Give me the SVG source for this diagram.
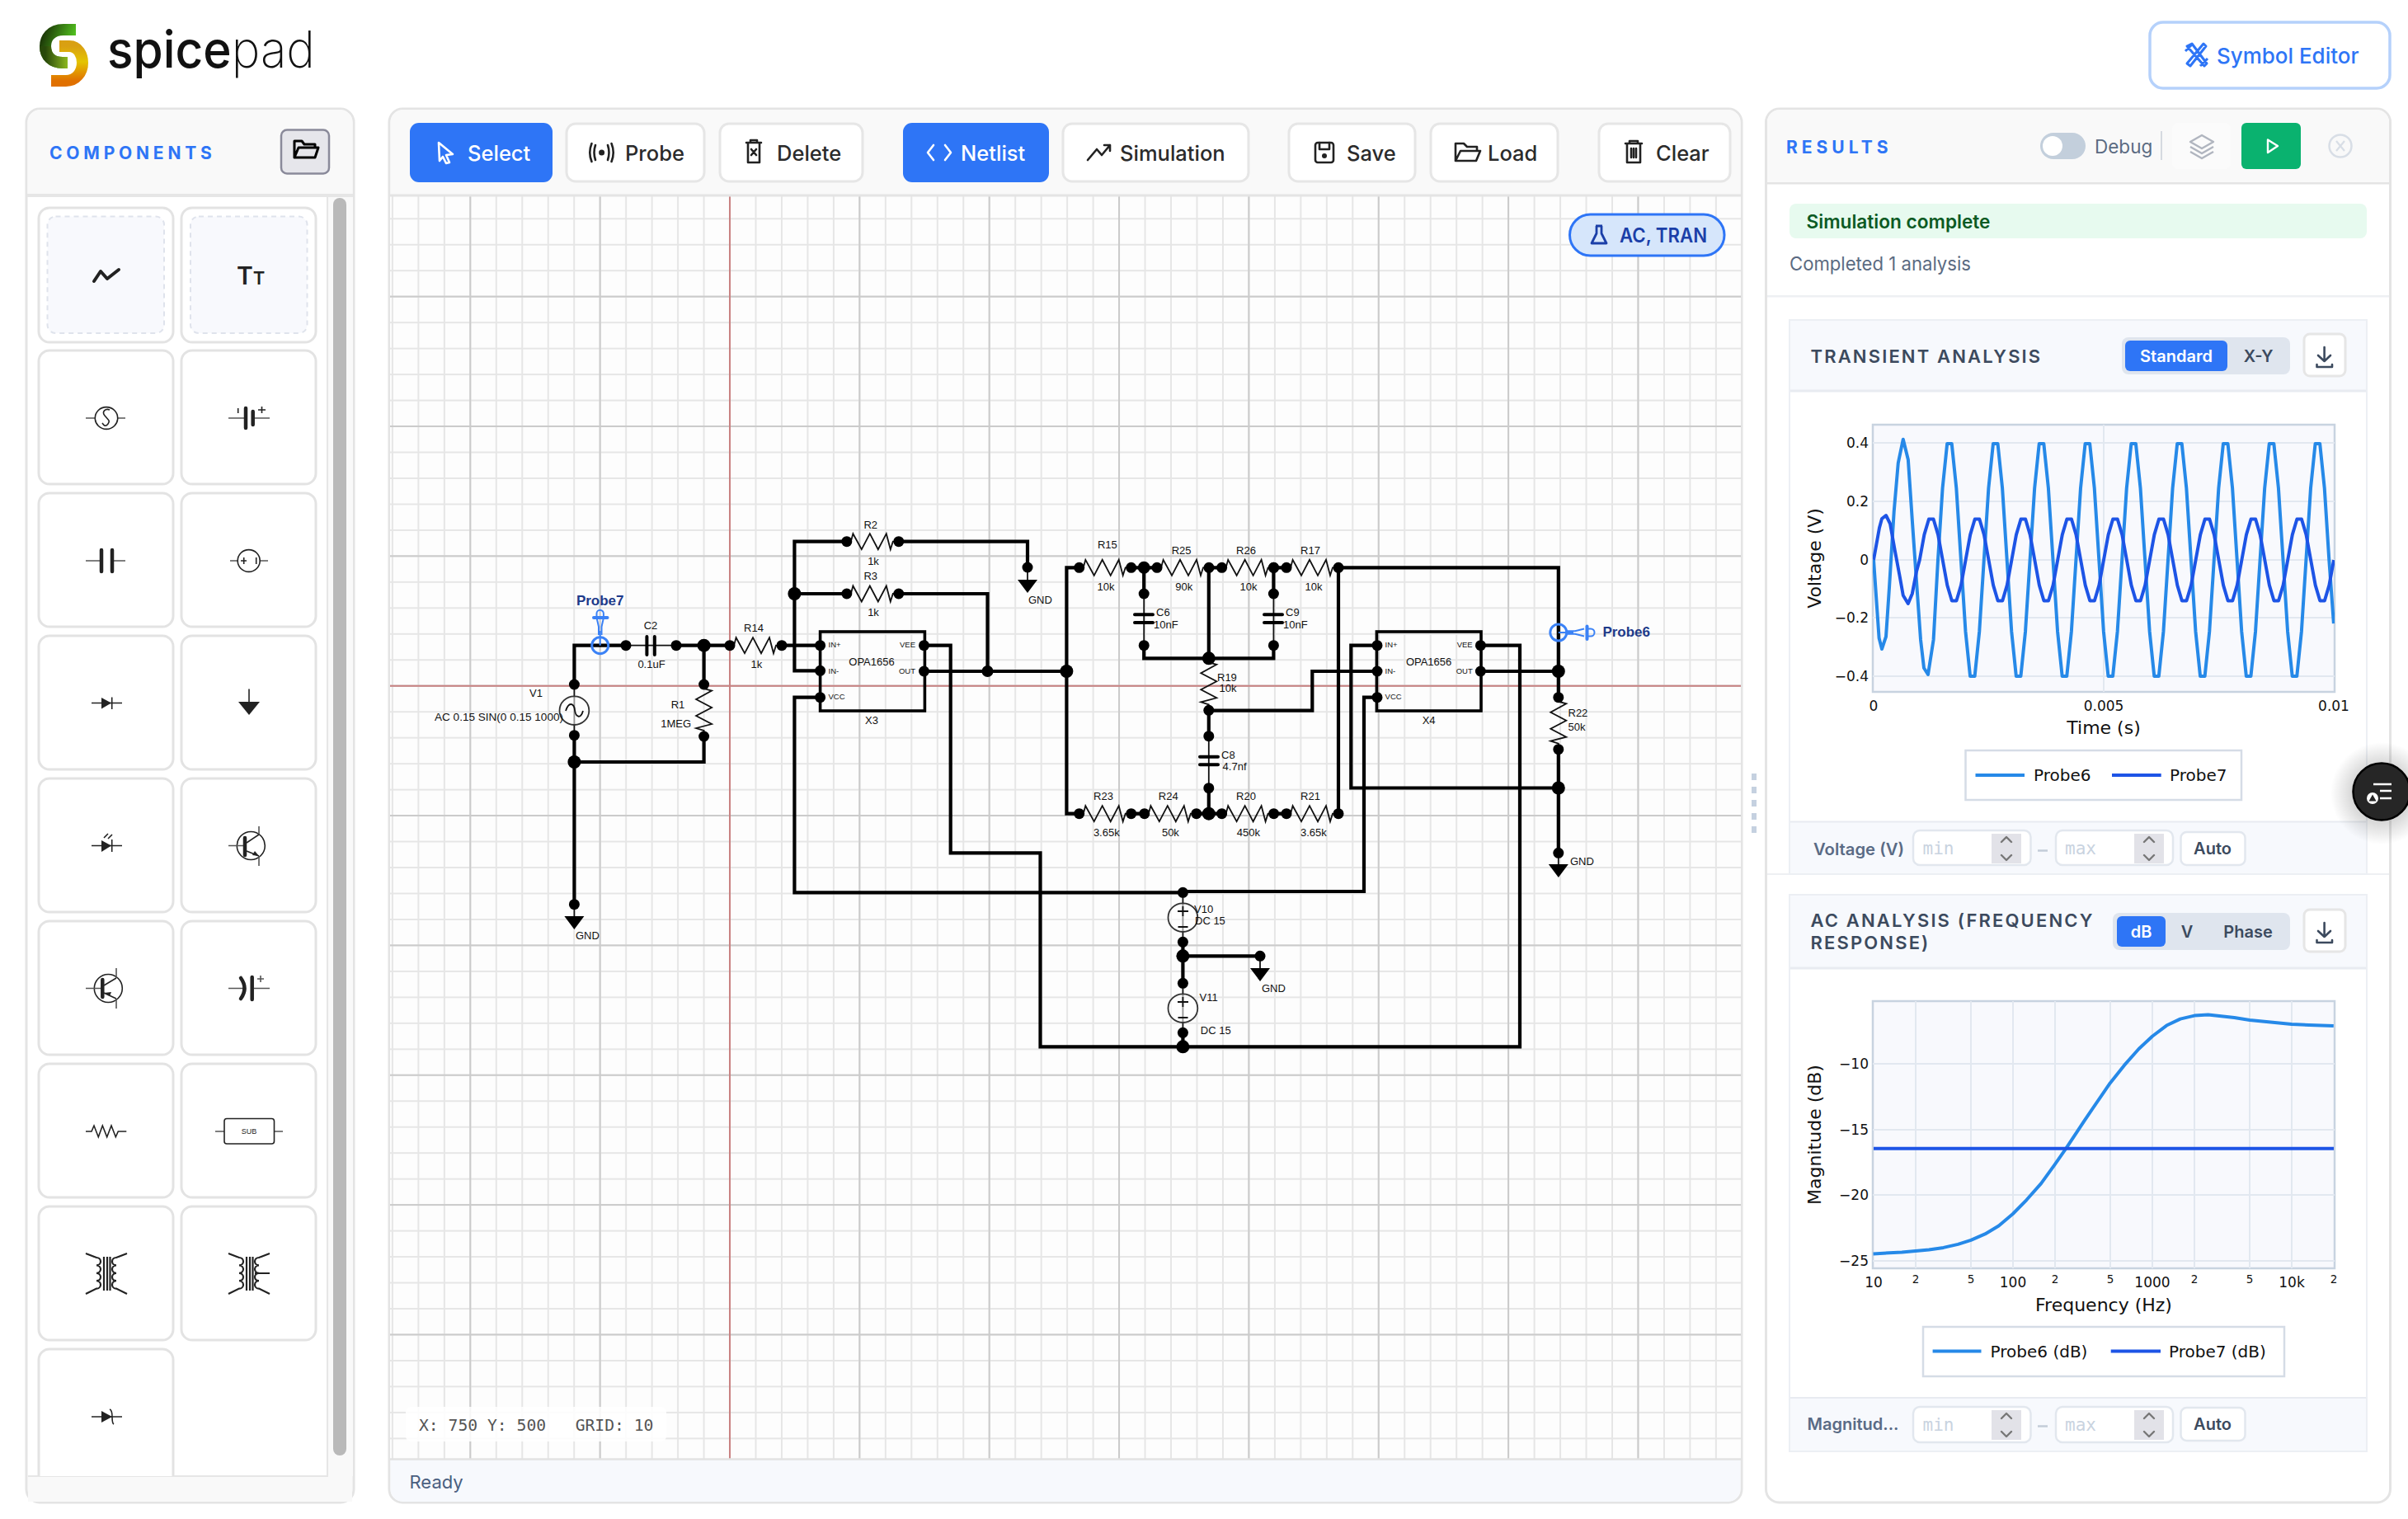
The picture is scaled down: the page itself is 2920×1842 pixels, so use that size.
<svg xmlns="http://www.w3.org/2000/svg" xmlns:xlink="http://www.w3.org/1999/xlink" width="2920" height="1842" viewBox="0 0 2920 1842">
<style>
text{font-family:"Inter","Liberation Sans",sans-serif}
.panel{fill:#fff;stroke:#e4e4e4;stroke-width:3}
.head{fill:#f9f9f9}
.btn{fill:#fff;stroke:#e6e6e6;stroke-width:3}
.blue{fill:#2e75f6}
.bt{font-size:25.5px;font-weight:500;fill:#2b2b2b}
.bw{font-size:25.5px;font-weight:500;fill:#fff}
.ik{fill:none;stroke:#222;stroke-width:2.6;stroke-linecap:round;stroke-linejoin:round}
.iw{fill:none;stroke:#fff;stroke-width:2.6;stroke-linecap:round;stroke-linejoin:round}
.cell{fill:#fff;stroke:#e3e3e3;stroke-width:3}
.sym{fill:none;stroke:#555;stroke-width:1.6}
.syk{fill:none;stroke:#222;stroke-width:1.6}
.syb{fill:none;stroke:#222;stroke-width:4.5;stroke-linecap:round}
.syf{fill:#222}
.wire{fill:none;stroke:#000;stroke-width:4.2;stroke-linecap:square;stroke-linejoin:miter}
.thin{fill:none;stroke:#111;stroke-width:1.8}
.plate{fill:none;stroke:#000;stroke-width:4;stroke-linecap:round}
.pin{fill:#000}
.jn{fill:#000}
.src{fill:#fff;fill-opacity:.55;stroke:#333;stroke-width:1.8}
.ic{fill:none;stroke:#000;stroke-width:3.6}
.l{font-family:"Liberation Sans",sans-serif;font-size:13px;fill:#111}
.m{text-anchor:middle}
.e{text-anchor:end}
.pl{font-family:"Liberation Sans",sans-serif;font-size:9.5px;fill:#111}
.pr{font-family:"Liberation Sans",sans-serif;font-weight:700;font-size:17px;fill:#1e3a8a}
.pb{fill:none;stroke:#3b82f6;stroke-width:3}
.card{fill:#f7f9fd;stroke:#eceff4;stroke-width:2}
.ct{font-size:22px;font-weight:600;letter-spacing:2.15px;fill:#3c4a5e}
.tg{fill:#dfe5ee}
.tt{font-size:20px;font-weight:600;fill:#3c4a5e}
.plot{fill:#f8f9fd;stroke:#c8d3e0;stroke-width:2.5}
.grid{fill:none;stroke:#e2e8f0;stroke-width:2}
.tick{font-family:"DejaVu Sans",sans-serif;font-size:17px;fill:#111}
.tk2{font-family:"DejaVu Sans",sans-serif;font-size:13.5px;fill:#111}
.axt{font-family:"DejaVu Sans",sans-serif;font-size:22px;fill:#111}
.leg{fill:#fff;stroke:#d5dce6;stroke-width:2.5}
.lgt{font-family:"DejaVu Sans",sans-serif;font-size:20px;fill:#111}
.p6{fill:none;stroke:#2689e8;stroke-width:4;stroke-linejoin:round}
.p7{fill:none;stroke:#1d54e6;stroke-width:4;stroke-linejoin:round}
.inp{fill:#fff;stroke:#e2e7ee;stroke-width:2.5}
.spin{fill:#e2e2e8}
.sa{fill:none;stroke:#777;stroke-width:2.4;stroke-linecap:round;stroke-linejoin:round}
.ph{font-family:"DejaVu Sans Mono",monospace;font-size:21px;fill:#c9d3e0}
.flab{font-size:20px;font-weight:600;fill:#5a6b85}
.auto{font-size:20px;font-weight:600;fill:#3c4a5e}
.coil{fill:none;stroke:#222;stroke-width:2.2}
</style>
<defs>
<pattern id="gMinor" patternUnits="userSpaceOnUse" width="31.47" height="31.47" patternTransform="translate(869.3 816)"><path d="M15.7 0V31.47M0 15.7H31.47" fill="none" stroke="#e6e6e6" stroke-width="2"/></pattern>
<pattern id="gMajor" patternUnits="userSpaceOnUse" width="157.35" height="157.35" patternTransform="translate(806.3 753)"><path d="M78.7 0V157.35M0 78.7H157.35" fill="none" stroke="#cbcbcb" stroke-width="2"/></pattern>
<g id="res"><path class="thin" d="M0 0H5L7.6-9.5 18 9.5 28-9.5 38 9.5 48-9.5 53 9.5 56 0H63"/><circle class="pin" cx="0" cy="0" r="6.5"/><circle class="pin" cx="63" cy="0" r="6.5"/></g>
<g id="gnd"><path d="M-12 0H12L0 16Z" fill="#000"/><path class="thin" d="M0 0V-15"/></g>
<linearGradient id="lg1" x1="0" y1="0" x2="1" y2="0.4"><stop offset="0" stop-color="#1d3a08"/><stop offset="1" stop-color="#58d022"/></linearGradient>
<linearGradient id="lg2" x1="0" y1="0" x2="0" y2="1"><stop offset="0" stop-color="#d9a012"/><stop offset=".45" stop-color="#e4c400"/><stop offset="1" stop-color="#e07000"/></linearGradient>
<linearGradient id="lg3" x1="0" y1="0" x2="1" y2="0"><stop offset="0" stop-color="#28480a"/><stop offset="1" stop-color="#8cb820"/></linearGradient>
<radialGradient id="shade"><stop offset=".55" stop-color="#000" stop-opacity=".16"/><stop offset="1" stop-color="#000" stop-opacity="0"/></radialGradient>
<clipPath id="cv"><rect x="473" y="238" width="1638" height="1531"/></clipPath>
<clipPath id="c1"><rect x="2271" y="515" width="560" height="324"/></clipPath>
<clipPath id="sideclip"><rect x="34" y="239" width="363" height="1551"/></clipPath>
</defs>
<rect width="2920" height="1842" fill="#fff"/>

<g id="logo">
<path d="M92 36H77C61 36 55 47 55 56 55 68 63 76 76 76H80" fill="none" stroke="url(#lg1)" stroke-width="14"/>
<path d="M55 56C55 68 63 76 76 76H82" fill="none" stroke="url(#lg3)" stroke-width="14"/>
<path d="M72 56H84C95 56 100 67 100 76 100 88 92 98 80 98H62" fill="none" stroke="url(#lg2)" stroke-width="14"/>
<text x="130" y="82" font-size="62" fill="#111" textLength="252" lengthAdjust="spacingAndGlyphs"><tspan font-weight="500">spice</tspan><tspan font-weight="200">pad</tspan></text>
</g>

<g id="symbol-editor">
<rect x="2607" y="27" width="291" height="80" rx="16" fill="#fff" stroke="#b5d1fb" stroke-width="3.5"/>
<path d="M2652 56l6-3 18 24-3 3ZM2675 56l-3-3-20 24 4 3ZM2650 62l9-9M2668 80l9-9" fill="none" stroke="#2e75f6" stroke-width="3" stroke-linejoin="round"/>
<text x="2688" y="77" font-size="26" font-weight="500" fill="#2e75f6" textLength="172.500" lengthAdjust="spacingAndGlyphs">Symbol Editor</text>
</g>

<g id="components-panel">
<rect class="panel" x="32" y="132" width="397" height="1690" rx="16"/>
<path class="head" d="M33.5 235V148a15 15 0 0 1 15-15H412.500a15 15 0 0 1 15 15V235Z"/>
<rect x="33" y="235" width="395" height="4" fill="#e6e6e6"/>
<text x="60" y="193" font-size="21" font-weight="700" letter-spacing="4.8" fill="#2e75f6">COMPONENTS</text>
<rect x="341" y="157.500" width="58" height="53" rx="7" fill="#e6e6eb" stroke="#8a8a9a" stroke-width="2.500"/>
<path d="M357 191V171h9l3 4h13v4M357 191h25l4-12h-24Z" fill="none" stroke="#000" stroke-width="3" stroke-linejoin="round"/>
<rect x="397" y="239" width="31" height="1551" fill="#f9f9f9"/>
<rect x="404" y="240" width="16" height="1525" rx="8" fill="#b9b9b9"/>
<rect x="34" y="1790" width="393" height="31" fill="#f9f9f9"/>
<path d="M34 1790H397V239" fill="none" stroke="#e6e6e6" stroke-width="2"/>
<g clip-path="url(#sideclip)">
<rect class="cell" x="47" y="252" width="163" height="163" rx="13"/><rect class="cell" x="220" y="252" width="163" height="163" rx="13"/>
<rect x="57.500" y="262.500" width="141.500" height="141.500" rx="10" fill="#f8f9fd" stroke="#dfe3ec" stroke-width="2" stroke-dasharray="6 5"/>
<rect x="231" y="262.500" width="141.500" height="141.500" rx="10" fill="#f8f9fd" stroke="#dfe3ec" stroke-width="2" stroke-dasharray="6 5"/>
<rect class="cell" x="47" y="425" width="163" height="162" rx="13"/><rect class="cell" x="220" y="425" width="163" height="162" rx="13"/>
<rect class="cell" x="47" y="598" width="163" height="162" rx="13"/><rect class="cell" x="220" y="598" width="163" height="162" rx="13"/>
<rect class="cell" x="47" y="771" width="163" height="162" rx="13"/><rect class="cell" x="220" y="771" width="163" height="162" rx="13"/>
<rect class="cell" x="47" y="944" width="163" height="162" rx="13"/><rect class="cell" x="220" y="944" width="163" height="162" rx="13"/>
<rect class="cell" x="47" y="1117" width="163" height="162" rx="13"/><rect class="cell" x="220" y="1117" width="163" height="162" rx="13"/>
<rect class="cell" x="47" y="1290" width="163" height="162" rx="13"/><rect class="cell" x="220" y="1290" width="163" height="162" rx="13"/>
<rect class="cell" x="47" y="1463" width="163" height="162" rx="13"/><rect class="cell" x="220" y="1463" width="163" height="162" rx="13"/>
<rect class="cell" x="47" y="1636" width="163" height="180" rx="13"/>
</g>
<g id="palette-wire"><path d="M114 341L122 329 130 338 144 327" fill="none" stroke="#222" stroke-width="4" stroke-linejoin="round" stroke-linecap="round"/></g>
<g id="palette-text"><text x="287" y="345" font-size="30" font-weight="600" fill="#222">T<tspan font-size="22">T</tspan></text></g>
<g id="palette-ac"><path class="sym" d="M104 507H115.500M142.500 507H152"/><ellipse class="syk" cx="129" cy="507" rx="13.700" ry="13.400"/><path class="syk" d="M133 497C128 495 123 499 127 504S134 510 131 514 126 516 124 513"/></g>
<g id="palette-battery"><path class="sym" d="M277 507H297M307 507H327"/><path class="syb" d="M298 495V519" stroke-width="3.500"/><path class="syb" d="M306.700 499V515" stroke-width="3.500"/><path class="syk" d="M288.700 495V501M313 497H322M317.500 493V501"/></g>
<g id="palette-cap"><path class="sym" d="M104 680H121M138 680H152"/><path class="syb" d="M123 667V693M136 667V693"/></g>
<g id="palette-isrc"><path class="sym" d="M279 680H288M315 680H325"/><ellipse class="syk" cx="301.700" cy="680" rx="13.500" ry="13.400"/><path class="syk" d="M292 680H299M295.700 676V684M310.700 676V684"/></g>
<g id="palette-diode"><path class="syk" d="M111 852.500H148M135.700 845.500V860"/><path class="syf" d="M123 846L135 852.500 123 859.500Z"/></g>
<g id="palette-gnd"><path class="syk" d="M302 835.500V852" stroke-width="2"/><path class="syf" d="M289 851H315L302 867Z"/></g>
<g id="palette-led"><path class="syk" d="M111 1025.500H148M135.700 1018V1033"/><path class="syf" d="M123 1019L135 1025.500 123 1033Z"/><path class="syk" d="M126 1016L131 1011M131 1017L136 1012"/></g>
<g id="palette-npn"><circle class="syk" cx="304.300" cy="1025.500" r="17"/><path class="sym" d="M277 1025.500H296M314 1002V1012M314 1038V1050"/><path class="syb" d="M297 1016V1037" stroke-width="3.500"/><path class="syk" d="M299 1022L314 1012M299 1032L314 1038"/><path class="syf" d="M314 1038L306 1037 309 1032Z"/></g>
<g id="palette-pnp"><circle class="syk" cx="131.300" cy="1198.500" r="17"/><path class="sym" d="M104 1198.500H123M141 1174V1186M141 1211V1223"/><path class="syb" d="M124.300 1188V1209" stroke-width="3.500"/><path class="syk" d="M126 1195L141 1186M126 1204L141 1211"/><path class="syf" d="M126 1204L135 1203 133 1208Z"/></g>
<g id="palette-polar"><path class="sym" d="M277 1198.500H297M308 1198.500H327M316 1183V1191M312 1187H320"/><path d="M292 1186Q301 1198.500 292 1211" fill="none" stroke="#222" stroke-width="4.500" stroke-linecap="round"/><path class="syb" d="M305.700 1185V1212"/></g>
<g id="palette-res"><path class="syk" d="M104 1372H111L114 1365 119.300 1378.700 124.300 1365 129.700 1378.700 135 1365 140.300 1378.700 143.300 1372H153.300"/></g>
<g id="palette-sub"><path class="sym" d="M261 1372H272M332 1372H343"/><rect x="272" y="1356.500" width="60.500" height="30.500" rx="3" fill="#fff" stroke="#222" stroke-width="1.600"/><text class="m" x="302" y="1374.500" font-size="9" style="font-family:'Liberation Sans',sans-serif" fill="#222">SUB</text></g>
<g id="palette-xfmr"><path class="coil" d="M104 1520L117 1525a5 4.700 0 0 1 0 9.400a5 4.700 0 0 1 0 9.400a5 4.700 0 0 1 0 9.400a5 4.700 0 0 1 0 9.400L104 1569M154 1520L141 1525a5 4.700 0 0 0 0 9.400a5 4.700 0 0 0 0 9.400a5 4.700 0 0 0 0 9.400a5 4.700 0 0 0 0 9.400L154 1569M126 1524V1565M130 1524V1565M133.500 1524V1565"/></g>
<g id="palette-xfmr-ct"><path class="coil" d="M277 1520L290 1525a5 4.700 0 0 1 0 9.400a5 4.700 0 0 1 0 9.400a5 4.700 0 0 1 0 9.400a5 4.700 0 0 1 0 9.400L277 1569M327 1520L314 1525a5 4.700 0 0 0 0 9.400a5 4.700 0 0 0 0 9.400a5 4.700 0 0 0 0 9.400a5 4.700 0 0 0 0 9.400L327 1569M299 1524V1565M303 1524V1565M306.500 1524V1565M309 1544H327"/></g>
<g id="palette-zener"><path class="syk" d="M111 1718H148"/><path class="syf" d="M123 1711L136 1718 123 1725Z"/><path class="syk" d="M133 1709Q136 1710 136 1718T138 1727"/></g>
</g>

<g id="canvas-panel">
<rect class="panel" x="472" y="132" width="1640" height="1690" rx="16"/>
<path class="head" d="M473.500 237V148a15 15 0 0 1 15-15H2095.500a15 15 0 0 1 15 15V237Z"/>
<rect x="473" y="238" width="1638" height="1531" fill="#fdfdfd"/>
<rect x="473" y="238" width="1638" height="1531" fill="url(#gMinor)"/>
<rect x="473" y="238" width="1638" height="1531" fill="url(#gMajor)"/>
<path d="M885 238V1769M473 831.700H2111" fill="none" stroke="#c98282" stroke-width="2"/>
<path d="M473 237H2111" stroke="#e4e4e4" stroke-width="3"/>
<path d="M473.500 1770V1806a15 15 0 0 0 15 15H2095.500a15 15 0 0 0 15-15V1770Z" fill="#f7f9fd"/>
<path d="M473 1769.500H2111" stroke="#e2e2e2" stroke-width="2.500"/>
<text x="496.500" y="1805" font-size="22" fill="#4a5f80">Ready</text>
<rect x="492" y="1706" width="316" height="42" rx="6" fill="#fff" fill-opacity=".85"/>
<text x="508" y="1735" style="font-family:'DejaVu Sans Mono',monospace;white-space:pre" font-size="19.700" fill="#555">X: 750 Y: 500   GRID: 10</text>
</g>

<g id="toolbar">
<g id="btn-select"><rect class="blue" x="497" y="149" width="173" height="72" rx="11"/><path class="iw" d="M532 173L549 187 541 188 545 197 541 198 537 190 533 195Z"/><text class="bw" x="567" y="195">Select</text></g>
<g id="btn-probe"><rect class="btn" x="687" y="150" width="167" height="70" rx="11"/><circle cx="729.600" cy="185" r="3.500" fill="#222"/><path class="ik" d="M722 176Q719 185 722 194M737 176Q740 185 737 194M717.500 174Q713 185 717.500 196M741.500 174Q746 185 741.500 196"/><text class="bt" x="758" y="195">Probe</text></g>
<g id="btn-delete"><rect class="btn" x="873" y="150" width="173" height="70" rx="11"/><path class="ik" d="M905 173H923M910 173V170H918V173M907 173V197H921V173M911 181L917 188M917 181L911 188"/><text class="bt" x="942" y="195">Delete</text></g>
<g id="btn-netlist"><rect class="blue" x="1095" y="149" width="177" height="72" rx="11"/><path class="iw" d="M1132 176L1125 185 1132 194M1146 176L1153 185 1146 194"/><text class="bw" x="1165" y="195">Netlist</text></g>
<g id="btn-simulation"><rect class="btn" x="1289" y="150" width="225" height="70" rx="11"/><path class="ik" d="M1319 194L1330 181 1336 188 1346 176M1339 176H1346V183"/><text class="bt" x="1358" y="195">Simulation</text></g>
<g id="btn-save"><rect class="btn" x="1563" y="150" width="153" height="70" rx="11"/><rect class="ik" x="1595" y="173" width="22" height="24" rx="3"/><path class="ik" d="M1600 173V181H1612V173"/><circle cx="1606" cy="189" r="3" fill="#222"/><text class="bt" x="1633" y="195">Save</text></g>
<g id="btn-load"><rect class="btn" x="1735" y="150" width="154" height="70" rx="11"/><path class="ik" d="M1765 195V174H1775L1779 178H1791V183M1765 195H1790L1795 183H1771Z"/><text class="bt" x="1804" y="195">Load</text></g>
<g id="btn-clear"><rect class="btn" x="1939" y="150" width="159" height="70" rx="11"/><path class="ik" d="M1971 174H1991M1976 174V171H1986V174M1973 174V197H1989V174M1978 180V191M1981 180V191M1984 180V191"/><text class="bt" x="2008" y="195">Clear</text></g>
</g>

<g id="analysis-pill">
<rect x="1903.500" y="260" width="187.500" height="50" rx="25" fill="#d6e6fb" stroke="#2e75f6" stroke-width="3"/>
<path d="M1935 274H1943M1936 274V283L1930 295H1948L1942 283V274" fill="none" stroke="#1b3fa8" stroke-width="2.800" stroke-linejoin="round"/>
<text x="1964" y="294" font-size="24" font-weight="600" fill="#1b3fa8" textLength="106" lengthAdjust="spacingAndGlyphs">AC, TRAN</text>
</g>

<g id="connectors" clip-path="url(#cv)">
<path class="wire" d="M759 782.700H696.400V830M820 782.700H885M696.400 891.700V1096.700M696.400 924H853.600V892.700M853.600 782.700V830"/>
<path class="wire" d="M948 782.700H994.600M1026.800 656.700H963.400V813.300H994.600M963.400 720H1026.800"/>
<path class="wire" d="M994.600 845.700H963.400V1082.300H1434.400M1434.400 1081H1654V845.700H1670"/>
<path class="wire" d="M1120.500 782.700H1152.700V1034.300H1261.500V1269.300H1843V782.700H1795.400"/>
<path class="wire" d="M1089.300 720H1197.500V814M1120.500 814H1293.400M1089.300 656.700H1246V688"/>
<path class="wire" d="M1308.700 688.300H1293.400V986.700H1308.700M1372 688.300H1403M1465.800 688.300H1481.600M1544.400 688.300H1560M1387.200 688.300V720M1387.200 782.700V798.300H1544.400V782.700M1544.400 688.300V720M1465.800 688.300V798.300"/>
<path class="wire" d="M1372 986.700H1387.800M1450.500 986.700H1481.600M1544.400 986.700H1560M1623 688.300V986.700M1623 688.300H1889.800V845.700M1889.800 908.300V1034.300"/>
<path class="wire" d="M1465.800 861.700H1591.300V814H1670M1465.800 861.700V892.700M1465.800 955.700V986.700"/>
<path class="wire" d="M1670 782.700H1638.300V955.500H1889.800M1795.400 814H1889.800"/>
<path class="wire" d="M1434.400 1142.300V1192.300M1434.400 1159.300H1528M1434.400 1252.300V1269.300"/>
</g>

<g id="V1"><path class="thin" d="M696.400 830V891.700"/><ellipse class="src" cx="696.400" cy="861.700" rx="17.900" ry="17.300"/><path class="thin" d="M686 862C690 850 696 853 697 861S704 873 707 862"/><circle class="pin" cx="696.400" cy="830" r="6.500"/><circle class="pin" cx="696.400" cy="891.700" r="6.500"/><text class="l m" x="650" y="845">V1</text><text class="l" x="527" y="874" textLength="156" lengthAdjust="spacingAndGlyphs">AC 0.15 SIN(0 0.15 1000)</text></g>
<g id="junctions"><circle class="jn" cx="696.400" cy="924" r="8"/><circle class="jn" cx="853.600" cy="782.700" r="8"/><circle class="jn" cx="963.400" cy="720" r="8"/><circle class="jn" cx="1197.500" cy="814" r="7"/><circle class="jn" cx="1293.400" cy="814" r="8"/><circle class="jn" cx="1387.200" cy="688.300" r="7.500"/><circle class="jn" cx="1465.800" cy="798.300" r="8"/><circle class="jn" cx="1465.800" cy="986.700" r="8"/><circle class="jn" cx="1889.800" cy="814" r="8"/><circle class="jn" cx="1889.800" cy="955.500" r="8"/><circle class="jn" cx="1434.400" cy="1159.300" r="8"/><circle class="jn" cx="1434.400" cy="1269.300" r="8"/><circle class="pin" cx="1544.400" cy="688.300" r="6.500"/></g>
<g id="GND1"><use href="#gnd" xlink:href="#gnd" x="696.400" y="1111"/><circle class="pin" cx="696.400" cy="1096.700" r="6.500"/><text class="l" x="698" y="1139">GND</text></g>
<g id="R1"><use href="#res" xlink:href="#res" transform="translate(853.600 830) rotate(90)"/><text class="l m" x="822" y="859">R1</text><text class="l e" x="838" y="882">1MEG</text></g>
<g id="C2"><path class="thin" d="M759 782.700H820"/><path class="plate" d="M784.400 772V794M793.800 772V794"/><circle class="pin" cx="759" cy="782.700" r="6.500"/><circle class="pin" cx="820" cy="782.700" r="6.500"/><text class="l m" x="789" y="763">C2</text><text class="l m" x="790" y="810">0.1uF</text></g>
<g id="R14"><use href="#res" xlink:href="#res" x="885" y="782.700"/><text class="l m" x="914" y="766">R14</text><text class="l m" x="917.400" y="810">1k</text></g>
<g id="R2"><use href="#res" xlink:href="#res" x="1026.800" y="656.700"/><text class="l m" x="1055.800" y="640.700">R2</text><text class="l m" x="1059" y="685">1k</text></g>
<g id="R3"><use href="#res" xlink:href="#res" x="1026.800" y="720"/><text class="l m" x="1055.800" y="702.700">R3</text><text class="l m" x="1059" y="746.700">1k</text></g>
<g id="GND2"><use href="#gnd" xlink:href="#gnd" x="1246" y="703"/><circle class="pin" cx="1246" cy="688" r="6.500"/><text class="l" x="1247" y="731.700">GND</text></g>
<g id="X3"><rect class="ic" x="994.600" y="766" width="126.800" height="96"/><circle class="pin" cx="994.600" cy="782.700" r="6.500"/><circle class="pin" cx="994.600" cy="813.300" r="6.500"/><circle class="pin" cx="994.600" cy="845.700" r="6.500"/><circle class="pin" cx="1120.500" cy="782.700" r="6.500"/><circle class="pin" cx="1120.500" cy="814" r="6.500"/><text class="pl" x="1004.500" y="785">IN+</text><text class="pl" x="1004.500" y="816.700">IN-</text><text class="pl" x="1004.500" y="848">VCC</text><text class="pl e" x="1110" y="785">VEE</text><text class="pl e" x="1110" y="816.700">OUT</text><text class="l m" x="1057" y="806.700">OPA1656</text><text class="l m" x="1057" y="878">X3</text></g>
<g id="R15"><use href="#res" xlink:href="#res" x="1308.700" y="688.300"/><text class="l m" x="1342.900" y="665">R15</text><text class="l m" x="1341" y="716">10k</text></g>
<g id="R25"><use href="#res" xlink:href="#res" x="1403" y="688.300"/><text class="l m" x="1432.600" y="671.700">R25</text><text class="l m" x="1435.700" y="716">90k</text></g>
<g id="R26"><use href="#res" xlink:href="#res" x="1481.600" y="688.300"/><text class="l m" x="1511" y="671.700">R26</text><text class="l m" x="1514" y="716">10k</text></g>
<g id="R17"><use href="#res" xlink:href="#res" x="1560" y="688.300"/><text class="l m" x="1589" y="671.700">R17</text><text class="l m" x="1593" y="716">10k</text></g>
<g id="C6"><path class="thin" d="M1387.200 720V782.700"/><path class="plate" d="M1376 745.300H1398M1376 755H1398"/><circle class="pin" cx="1387.200" cy="720" r="6.500"/><circle class="pin" cx="1387.200" cy="782.700" r="6.500"/><text class="l" x="1402" y="747">C6</text><text class="l" x="1399" y="761.700">10nF</text></g>
<g id="C9"><path class="thin" d="M1544.400 720V782.700"/><path class="plate" d="M1533 745.300H1555M1533 755H1555"/><circle class="pin" cx="1544.400" cy="720" r="6.500"/><circle class="pin" cx="1544.400" cy="782.700" r="6.500"/><text class="l" x="1559" y="747">C9</text><text class="l" x="1556" y="761.700">10nF</text></g>
<g id="R19"><use href="#res" xlink:href="#res" transform="translate(1465.800 798.300) rotate(90)"/><text class="l" x="1476" y="825.700">R19</text><text class="l" x="1478.600" y="839">10k</text></g>
<g id="C8"><path class="thin" d="M1465.800 892.700V955.700"/><path class="plate" d="M1455 917.700H1477M1455 927.300H1477"/><circle class="pin" cx="1465.800" cy="892.700" r="6.500"/><circle class="pin" cx="1465.800" cy="955.700" r="6.500"/><text class="l" x="1481" y="920">C8</text><text class="l" x="1482.600" y="934">4.7nf</text></g>
<g id="R23"><use href="#res" xlink:href="#res" x="1308.700" y="986.700"/><text class="l m" x="1338" y="970">R23</text><text class="l m" x="1341.800" y="1014">3.65k</text></g>
<g id="R24"><use href="#res" xlink:href="#res" x="1387.800" y="986.700"/><text class="l m" x="1416.800" y="970">R24</text><text class="l m" x="1419.400" y="1014">50k</text></g>
<g id="R20"><use href="#res" xlink:href="#res" x="1481.600" y="986.700"/><text class="l m" x="1511" y="970">R20</text><text class="l m" x="1513.800" y="1014">450k</text></g>
<g id="R21"><use href="#res" xlink:href="#res" x="1560" y="986.700"/><text class="l m" x="1589" y="970">R21</text><text class="l m" x="1592.900" y="1014">3.65k</text></g>
<g id="X4"><rect class="ic" x="1669.400" y="766" width="126.600" height="96"/><circle class="pin" cx="1670" cy="782.700" r="6.500"/><circle class="pin" cx="1670" cy="814" r="6.500"/><circle class="pin" cx="1670" cy="845.700" r="6.500"/><circle class="pin" cx="1795.400" cy="782.700" r="6.500"/><circle class="pin" cx="1795.400" cy="814" r="6.500"/><text class="pl" x="1679.600" y="785">IN+</text><text class="pl" x="1679.600" y="816.700">IN-</text><text class="pl" x="1679.600" y="848">VCC</text><text class="pl e" x="1785.700" y="785">VEE</text><text class="pl e" x="1785.700" y="816.700">OUT</text><text class="l m" x="1732.600" y="806.700">OPA1656</text><text class="l m" x="1732.600" y="878">X4</text></g>
<g id="R22"><use href="#res" xlink:href="#res" transform="translate(1889.800 845.700) rotate(90)"/><text class="l" x="1901.500" y="869">R22</text><text class="l" x="1901.500" y="886">50k</text></g>
<g id="GND3"><use href="#gnd" xlink:href="#gnd" x="1889.800" y="1048"/><circle class="pin" cx="1889.800" cy="1034.300" r="6.500"/><text class="l" x="1904" y="1049.300">GND</text></g>
<g id="V10"><path class="thin" d="M1434.400 1082V1142"/><ellipse class="src" cx="1434.400" cy="1112.700" rx="17.900" ry="17.300"/><path class="thin" d="M1428 1105H1441M1434.400 1099V1111M1428.500 1124H1440.500"/><circle class="pin" cx="1434.400" cy="1082.300" r="6.500"/><circle class="pin" cx="1434.400" cy="1142.300" r="6.500"/><text class="l" x="1448" y="1107">V10</text><text class="l" x="1449" y="1121">DC 15</text></g>
<g id="V11"><path class="thin" d="M1434.400 1192V1252"/><ellipse class="src" cx="1434.400" cy="1222.700" rx="17.900" ry="17.300"/><path class="thin" d="M1428 1215H1441M1434.400 1209V1221M1428.500 1234H1440.500"/><circle class="pin" cx="1434.400" cy="1192.300" r="6.500"/><circle class="pin" cx="1434.400" cy="1252.300" r="6.500"/><text class="l" x="1454.500" y="1214">V11</text><text class="l" x="1455.800" y="1254">DC 15</text></g>
<g id="GND4"><use href="#gnd" xlink:href="#gnd" x="1528" y="1174"/><circle class="pin" cx="1528" cy="1159.300" r="6.500"/><text class="l" x="1530" y="1202.700">GND</text></g>
<g id="Probe7"><circle class="pb" cx="727.700" cy="782.700" r="10"/><path d="M727.700 782.700V765" fill="none" stroke="#3b82f6" stroke-width="2"/><path d="M723.500 749V744a4.200 4.200 0 0 1 8.400 0V749" fill="none" stroke="#3b82f6" stroke-width="2"/><path d="M720 749H736.500" stroke="#3b82f6" stroke-width="4" stroke-linecap="round"/><path d="M723.500 749L726 760V770M732 749L729.500 760V770" fill="none" stroke="#3b82f6" stroke-width="2"/><text class="pr m" x="727.700" y="734">Probe7</text></g>
<g id="Probe6"><circle class="pb" cx="1889.800" cy="767" r="10"/><path d="M1889.800 767H1908M1900 765.200H1910L1921 762.500M1900 768.800H1910L1921 771.500" fill="none" stroke="#3b82f6" stroke-width="2"/><path d="M1924 762.500H1929a4.200 4.200 0 0 1 0 9H1924" fill="none" stroke="#3b82f6" stroke-width="2"/><path d="M1924.500 759.500V775" stroke="#3b82f6" stroke-width="4" stroke-linecap="round"/><text class="pr" x="1943.400" y="771.700">Probe6</text></g>

<g id="drag-handle" fill="#c5d1e0"><rect x="2124" y="938" width="6" height="8"/><rect x="2124" y="954" width="6" height="8"/><rect x="2124" y="970" width="6" height="8"/><rect x="2124" y="986" width="6" height="8"/><rect x="2124" y="1002" width="6" height="8"/></g>

<g id="results-panel">
<rect class="panel" x="2141.500" y="132" width="757" height="1690" rx="16"/>
<path class="head" d="M2143 221V148a15 15 0 0 1 15-15H2882a15 15 0 0 1 15 15V221Z"/>
<rect x="2142" y="221" width="756" height="2.500" fill="#e4e4e4"/>
<text x="2166" y="186" font-size="21" font-weight="700" letter-spacing="5" fill="#2e75f6">RESULTS</text>
<rect x="2474" y="161" width="55" height="32" rx="16" fill="#c3cfdc"/><circle cx="2489" cy="177" r="12" fill="#fff"/>
<text x="2540" y="186" font-size="22.500" fill="#5b6b82">Debug</text>
<path d="M2621 159V194" stroke="#d5d9e0" stroke-width="2"/>
<rect x="2634" y="149" width="71" height="56" rx="7" fill="#fbfbfb"/>
<path d="M2670 164L2684 172 2670 180 2656 172ZM2656 178L2670 186 2684 178M2656 184L2670 192 2684 184" fill="none" stroke="#b0b5bf" stroke-width="2.400" stroke-linejoin="round"/>
<rect x="2718" y="149" width="72" height="56" rx="6" fill="#0ab26f"/>
<path d="M2750 169.500L2762 177 2750 185Z" fill="none" stroke="#fff" stroke-width="2.400" stroke-linejoin="round"/>
<circle cx="2838" cy="177" r="13.500" fill="none" stroke="#d8dee6" stroke-width="2.500"/><path d="M2833 171L2843 183M2843 171L2833 183" stroke="#d8dee6" stroke-width="2.200"/>
<rect x="2170" y="247" width="700" height="42" rx="8" fill="#e7faef"/>
<text x="2190.500" y="277" font-size="23" font-weight="600" fill="#0c5a24" textLength="223" lengthAdjust="spacingAndGlyphs">Simulation complete</text>
<text x="2170" y="328" font-size="23" fill="#5b6b82" textLength="220" lengthAdjust="spacingAndGlyphs">Completed 1 analysis</text>
<rect x="2143" y="358" width="754" height="2.500" fill="#eef0f3"/>
<rect x="2143" y="1059" width="754" height="2" fill="#eef0f3"/>
</g>

<g id="transient-card">
<rect class="card" x="2170" y="388" width="700" height="672"/>
<rect x="2171" y="474" width="698" height="522" fill="#fff"/>
<rect x="2171" y="472.500" width="698" height="3" fill="#e8ebf1"/>
<path d="M2171 996.500H2869" stroke="#e8ebf1" stroke-width="2"/>
<text class="ct" x="2195.500" y="440">TRANSIENT ANALYSIS</text>
<rect class="tg" x="2573" y="409" width="204" height="45" rx="8"/>
<rect class="blue" x="2577" y="413" width="124" height="37" rx="6"/>
<text class="tt m" x="2639" y="439" style="fill:#fff">Standard</text>
<text class="tt m" x="2738.600" y="439">X-Y</text>
<rect class="btn" x="2794" y="405" width="50" height="51" rx="7"/>
<path d="M2818.600 421V438M2811 431L2818.600 438 2826 431M2809.500 442V445H2828V442" fill="none" stroke="#3c4a5e" stroke-width="2.600" stroke-linecap="round" stroke-linejoin="round"/>
<rect class="plot" x="2271" y="515" width="560" height="324"/>
<path class="grid" d="M2551 515V839M2271 537H2831M2271 608H2831M2271 679H2831M2271 749H2831M2271 820H2831"/>
<g clip-path="url(#c1)">
<path class="p6" d="M2272 679L2278.600 773.800 2282 787 2287 772 2291 712.600 2296.700 620.700 2301.800 561.400 2307.800 532.700 2313.900 557.600 2318.900 632 2324 705 2329 775.700 2333 810 2338 818 2344.600 775.700 2350 679l5.580-87 5.580-54 5.580 0 5.580 54 5.580 87 5.580 87 5.580 54 5.580 0 5.580-54 5.580-87l5.580-87 5.580-54 5.580 0 5.580 54 5.580 87 5.580 87 5.580 54 5.580 0 5.580-54 5.580-87l5.580-87 5.580-54 5.580 0 5.580 54 5.580 87 5.580 87 5.580 54 5.580 0 5.580-54 5.580-87l5.580-87 5.580-54 5.580 0 5.580 54 5.580 87 5.580 87 5.580 54 5.580 0 5.580-54 5.580-87l5.580-87 5.580-54 5.580 0 5.580 54 5.580 87 5.580 87 5.580 54 5.580 0 5.580-54 5.580-87l5.580-87 5.580-54 5.580 0 5.580 54 5.580 87 5.580 87 5.580 54 5.580 0 5.580-54 5.580-87l5.580-87 5.580-54 5.580 0 5.580 54 5.580 87 5.580 87 5.580 54 5.580 0 5.580-54 5.580-87l5.580-87 5.580-54 5.580 0 5.580 54 5.580 87 5.580 87 5.580 54 5.580 0 5.580-54 5.580-87l5.580-87 5.580-54 5.580 0 5.580 54 5.580 87 5.580 77"/>
<path class="p7" d="M2272 679L2279 640 2282 629 2287 625 2292 635 2297.700 667 2303.700 699 2307.800 722 2313.800 732 2318.800 720 2324 693 2327.800 679l5.580-30.600 5.580-18.900 5.580 0 5.580 18.900 5.580 30.600 5.580 30.600 5.580 18.900 5.580 0 5.580-18.900 5.580-30.600l5.580-30.600 5.580-18.900 5.580 0 5.580 18.900 5.580 30.600 5.580 30.600 5.580 18.900 5.580 0 5.580-18.900 5.580-30.600l5.580-30.600 5.580-18.900 5.580 0 5.580 18.900 5.580 30.600 5.580 30.600 5.580 18.900 5.580 0 5.580-18.900 5.580-30.600l5.580-30.600 5.580-18.900 5.580 0 5.580 18.900 5.580 30.600 5.580 30.600 5.580 18.900 5.580 0 5.580-18.900 5.580-30.600l5.580-30.600 5.580-18.900 5.580 0 5.580 18.900 5.580 30.600 5.580 30.600 5.580 18.900 5.580 0 5.580-18.900 5.580-30.600l5.580-30.600 5.580-18.900 5.580 0 5.580 18.900 5.580 30.600 5.580 30.600 5.580 18.900 5.580 0 5.580-18.900 5.580-30.600l5.580-30.600 5.580-18.900 5.580 0 5.580 18.900 5.580 30.600 5.580 30.600 5.580 18.900 5.580 0 5.580-18.900 5.580-30.600l5.580-30.600 5.580-18.900 5.580 0 5.580 18.900 5.580 30.600 5.580 30.600 5.580 18.900 5.580 0 5.580-18.900 5.580-30.600l5.580-30.600 5.580-18.900 5.580 0 5.580 18.900 5.580 30.600 5.580 30.600 5.580 18.900 5.580 0 5.580-18.900 5.580-30.600"/>
</g>
<text class="tick e" x="2266" y="543">0.4</text><text class="tick e" x="2266" y="614">0.2</text><text class="tick e" x="2266" y="685">0</text><text class="tick e" x="2266" y="755">−0.2</text><text class="tick e" x="2266" y="826">−0.4</text>
<text class="tick m" x="2272" y="862">0</text><text class="tick m" x="2551" y="862">0.005</text><text class="tick m" x="2830" y="862">0.01</text>
<text class="axt m" x="2551" y="890">Time (s)</text>
<text class="axt m" transform="translate(2208 677) rotate(-90)">Voltage (V)</text>
<rect class="leg" x="2383.500" y="910" width="334.500" height="60"/>
<path class="p6" d="M2395.500 940H2455"/><text class="lgt" x="2466" y="947">Probe6</text>
<path class="p7" d="M2561 940H2620.700"/><text class="lgt" x="2631" y="947">Probe7</text>
<text class="flab" x="2199" y="1037" textLength="110" lengthAdjust="spacingAndGlyphs">Voltage (V)</text>
<rect class="inp" x="2320" y="1007" width="142.500" height="42" rx="8"/><rect class="spin" x="2415" y="1011" width="36" height="36"/><path class="sa" d="M2427 1021L2433 1015 2439 1021M2427 1037L2433 1043 2439 1037"/><text class="ph" x="2331.500" y="1036">min</text>
<path d="M2471 1031.500H2483" stroke="#c3ccd8" stroke-width="2.500"/>
<rect class="inp" x="2493" y="1007" width="142" height="42" rx="8"/><rect class="spin" x="2588" y="1011" width="36" height="36"/><path class="sa" d="M2600 1021L2606 1015 2612 1021M2600 1037L2606 1043 2612 1037"/><text class="ph" x="2504" y="1036">max</text>
<rect class="inp" x="2644.500" y="1009" width="78" height="40" rx="7"/><text class="auto m" x="2683" y="1036">Auto</text>
</g>

<g id="ac-card">
<rect class="card" x="2170" y="1085" width="700" height="675"/>
<rect x="2171" y="1174" width="698" height="521" fill="#fff"/>
<rect x="2171" y="1172.500" width="698" height="3" fill="#e8ebf1"/>
<path d="M2171 1695H2869" stroke="#e8ebf1" stroke-width="2"/>
<text class="ct" x="2195.500" y="1124">AC ANALYSIS (FREQUENCY</text>
<text class="ct" x="2195.500" y="1151">RESPONSE)</text>
<rect class="tg" x="2562" y="1107" width="215" height="45" rx="8"/>
<rect class="blue" x="2567" y="1111" width="59" height="37" rx="6"/>
<text class="tt m" x="2596.500" y="1137" style="fill:#fff">dB</text>
<text class="tt m" x="2652" y="1137">V</text>
<text class="tt m" x="2726" y="1137">Phase</text>
<rect class="btn" x="2794" y="1103" width="50" height="51" rx="7"/>
<path d="M2818.600 1119V1136M2811 1129L2818.600 1136 2826 1129M2809.500 1140V1143H2828V1140" fill="none" stroke="#3c4a5e" stroke-width="2.600" stroke-linecap="round" stroke-linejoin="round"/>
<rect class="plot" x="2271" y="1214" width="560" height="324"/>
<path class="grid" d="M2323 1214V1538M2390 1214V1538M2441 1214V1538M2492 1214V1538M2559 1214V1538M2610 1214V1538M2661 1214V1538M2728 1214V1538M2779 1214V1538M2271 1290H2831M2271 1370H2831M2271 1449H2831M2271 1529H2831"/>
<polyline class="p6" vector-effect="non-scaling-stroke" transform="translate(2130 1060) scale(.5038 .4988)" points="281,923 350,919 415,913 450,908 485,900 516,890 550,875 583,855 617,826 650,792 685,752 718,706 745,667 790,598 851,508 885,465 920,425 953,394 987,368 1020,352 1054,344 1087,342 1150,349 1187,355 1288,365 1330,367 1389,369"/>
<path class="p7" d="M2272 1392.700H2830"/>
<text class="tick e" x="2266" y="1296">−10</text><text class="tick e" x="2266" y="1376">−15</text><text class="tick e" x="2266" y="1455">−20</text><text class="tick e" x="2266" y="1535">−25</text>
<text class="tick m" x="2272" y="1561">10</text><text class="tick m" x="2441" y="1561">100</text><text class="tick m" x="2610" y="1561">1000</text><text class="tick m" x="2779" y="1561">10k</text>
<text class="tk2 m" x="2323" y="1556">2</text><text class="tk2 m" x="2390" y="1556">5</text><text class="tk2 m" x="2492" y="1556">2</text><text class="tk2 m" x="2559" y="1556">5</text><text class="tk2 m" x="2661" y="1556">2</text><text class="tk2 m" x="2728" y="1556">5</text><text class="tk2 m" x="2830" y="1556">2</text>
<text class="axt m" x="2551" y="1590">Frequency (Hz)</text>
<text class="axt m" transform="translate(2208 1376) rotate(-90)">Magnitude (dB)</text>
<rect class="leg" x="2332" y="1609" width="438" height="60"/>
<path class="p6" d="M2343.600 1638.500H2402.500"/><text class="lgt" x="2413.600" y="1646">Probe6 (dB)</text>
<path class="p7" d="M2559.700 1638.500H2620"/><text class="lgt" x="2630" y="1646">Probe7 (dB)</text>
<text class="flab" x="2191.500" y="1734" textLength="111" lengthAdjust="spacingAndGlyphs">Magnitud...</text>
<rect class="inp" x="2320" y="1706" width="142.500" height="43" rx="8"/><rect class="spin" x="2415" y="1710" width="36" height="36"/><path class="sa" d="M2427 1720L2433 1714 2439 1720M2427 1736L2433 1742 2439 1736"/><text class="ph" x="2331.500" y="1735">min</text>
<path d="M2471 1729.500H2483" stroke="#c3ccd8" stroke-width="2.500"/>
<rect class="inp" x="2493" y="1706" width="142" height="43" rx="8"/><rect class="spin" x="2588" y="1710" width="36" height="36"/><path class="sa" d="M2600 1720L2606 1714 2612 1720M2600 1736L2606 1742 2612 1736"/><text class="ph" x="2504" y="1735">max</text>
<rect class="inp" x="2644.500" y="1707" width="78" height="40" rx="7"/><text class="auto m" x="2683" y="1734">Auto</text>
</g>

<g id="float-button">
<circle cx="2888" cy="962" r="62" fill="url(#shade)"/>
<circle cx="2888" cy="960" r="34.500" fill="#262626" stroke="#000" stroke-width="2.500"/>
<path d="M2878 951H2900M2886 959H2900M2886 968H2900" stroke="#fff" stroke-width="2.600"/>
<circle cx="2877" cy="968" r="7" fill="#fff"/><path d="M2877 963.500L2881.500 971.500H2872.500Z" fill="#262626"/>
</g>
</svg>
